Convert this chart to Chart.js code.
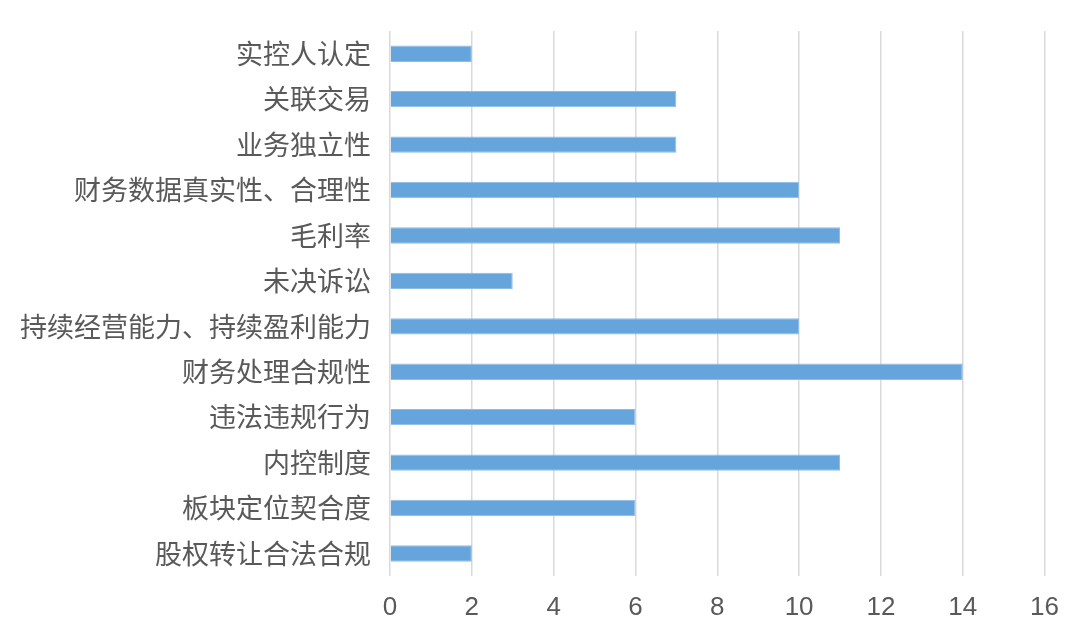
<!DOCTYPE html>
<html>
<head>
<meta charset="utf-8">
<script src="https://cdn.jsdelivr.net/npm/chart.js@4"></script>
<style>
  html, body { margin: 0; padding: 0; background: #fff; }
  #wrap { width: 1080px; height: 639px; }
</style>
</head>
<body>
<div id="wrap"><canvas id="reportChart"></canvas></div>
<script>
// hạng mục (từ trên xuống)
const categories = [
    "实控人认定", "关联交易", "业务独立性", "财务数据真实性、合理性", "毛利率", "未决诉讼",
    "持续经营能力、持续盈利能力", "财务处理合规性", "违法违规行为", "内控制度", "板块定位契合度", "股权转让合法合规"
];
const counts = [2, 7, 7, 10, 11, 3, 10, 14, 6, 11, 6, 2];
const xTicks = [0, 2, 4, 6, 8, 10, 12, 14, 16];

const ctx = document.getElementById("reportChart");
new Chart(ctx, {
    type: "bar",
    data: {
        labels: categories,
        datasets: [{
            data: counts,
            backgroundColor: "#66a5dc",
            borderColor: "#8dbce6",
            borderWidth: 1,
            barPercentage: 0.36,
            categoryPercentage: 1
        }]
    },
    options: {
        indexAxis: "y",
        responsive: true,
        maintainAspectRatio: false,
        animation: false,
        layout: { padding: { top: 31, right: 22, bottom: 0, left: 1 } },
        plugins: { legend: { display: false }, tooltip: { enabled: false } },
        scales: {
            x: {
                min: 0,
                max: 16,
                afterBuildTicks: axis => { axis.ticks = xTicks.map(v => ({ value: v })); },
                grid: { color: "#d9d9d9", lineWidth: 1.5, drawTicks: false },
                border: { display: false },
                ticks: {
                    padding: 21,
                    color: "#595959",
                    font: { family: "'Helvetica Neue', 'Liberation Sans', Arial, sans-serif", size: 26, lineHeight: 0.8 }
                }
            },
            y: {
                grid: { display: false, drawTicks: false },
                border: { display: false },
                ticks: {
                    padding: 19,
                    color: "#595959",
                    font: { family: "'Noto Sans CJK SC', sans-serif", size: 27, lineHeight: 0.85 }
                }
            }
        }
    }
});
</script>
</body>
</html>
